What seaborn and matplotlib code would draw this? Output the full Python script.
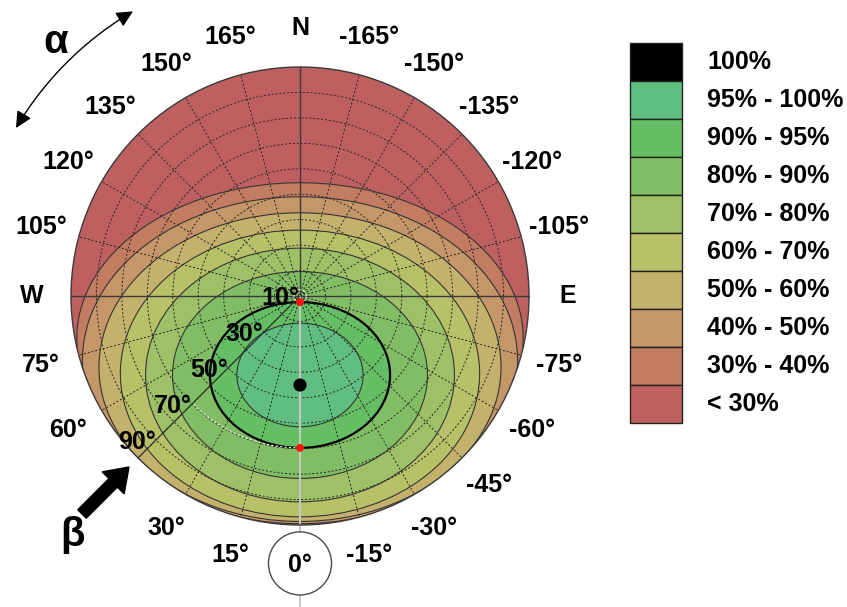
import numpy as np
import matplotlib
matplotlib.use("Agg")
import matplotlib.pyplot as plt
from matplotlib.patches import Ellipse, Circle, Rectangle, FancyArrow, FancyArrowPatch
from matplotlib.path import Path
import seaborn as sns

sns.set_theme(style="white")
plt.rcParams["font.family"] = ["Liberation Sans", "DejaVu Sans"]

# Yield bands, relative to the yield at the optimum orientation
legend_labels = ["100%", "95% - 100%", "90% - 95%", "80% - 90%", "70% - 80%",
                 "60% - 70%", "50% - 60%", "40% - 50%", "30% - 40%", "< 30%"]
band_colors = ["#000000", "#60be80", "#66be64", "#80bd64", "#9ec066",
               "#b8c068", "#c4b26c", "#c49668", "#c27c62", "#bf6060"]

# Iso-yield contours, outermost first (tilt degrees on the projected
# north-south axis, north positive, and east-west half width)
contour_levels = [30, 40, 50, 60, 70, 80, 90, 95]
contour_north = [44.5, 39.0, 32.7, 25.9, 18.8, 9.6, -2.4, -10.7]
contour_south = [-77.5, -89.5, -88.6, -86.8, -80.9, -71.7, -59.7, -51.4]
contour_halfwidth = [87.7, 85.5, 79.0, 70.6, 60.7, 50.1, 35.4, 24.8]
contour_colors = band_colors[8:0:-1]

# Optimum orientation and the 90 % limits along the south meridian
optimum_tilt, optimum_azimuth = 35, 0
limit_tilts = [2.4, 59.7]

# Tick labels
tilt_ticks = [10, 30, 50, 70, 90]
azimuth_ticks = [15, 30, 60, 75, 90, 105, 120, 135, 150, 165, 180,
                 -165, -150, -135, -120, -105, -90, -75, -60, -45, -30, -15]
azimuth_labels = ["15°", "30°", "60°", "75°", "W", "105°", "120°", "135°",
                  "150°", "165°", "N", "-165°", "-150°", "-135°", "-120°",
                  "-105°", "E", "-75°", "-60°", "-45°", "-30°", "-15°"]

PX = 229 / 90.0          # pixels per degree of tilt
CX, CY = 300, 296        # disc centre in pixels
R = 90                   # horizon (vertical plane) radius in tilt degrees


def proj(beta, alpha):
    a = np.radians(alpha)
    return -beta * np.sin(a), -beta * np.cos(a)


def px(x, y):
    return (x - CX) / PX, (CY - y) / PX


fig = plt.figure(figsize=(8.47, 6.07), dpi=100)
ax = fig.add_axes([0, 0, 1, 1])
ax.set_xlim(-CX / PX, (847 - CX) / PX)
ax.set_ylim((CY - 607) / PX, CY / PX)
ax.set_aspect("equal")
ax.axis("off")

clip = Circle((0, 0), R, transform=ax.transData)
ax.add_patch(Circle((0, 0), R, facecolor=band_colors[9], edgecolor="none", zorder=1))

for lvl, n, s, hw, col in zip(contour_levels, contour_north, contour_south,
                              contour_halfwidth, contour_colors):
    bold = lvl == 90
    e = Ellipse((0, (n + s) / 2), 2 * hw, n - s, facecolor=col,
                edgecolor="black" if bold else "#353535",
                lw=1.6 if bold else 0.8, zorder=2)
    ax.add_patch(e)
    e.set_clip_path(clip)

# dashed tilt / azimuth grid
t = np.linspace(0, 2 * np.pi, 400)
for b in range(10, 90, 10):
    ax.plot(b * np.cos(t), b * np.sin(t), color="#262626", lw=0.7,
            ls=(0, (2, 2)), zorder=3)
for a in range(0, 360, 15):
    if a % 90:
        x, y = proj(R, a)
        ax.plot([0, x], [0, y], color="#262626", lw=0.7, ls=(0, (2, 2)), zorder=3)

# axes of the diagram
ax.plot([-R, R], [0, 0], color="#3a3a3a", lw=1.0, zorder=4)
ax.plot([0, 0], [0, R], color="#3a3a3a", lw=1.0, zorder=4)
ax.plot([0, 0], [0, (CY - 607) / PX], color="#c8c8c8", lw=1.4, zorder=4)
ax.add_patch(Circle((0, 0), R, fill=False, edgecolor="#3a3a3a", lw=1.0, zorder=4))

# tilt scale along the 45° azimuth
gx, gy = proj(R, 45)
ax.plot([0, gx], [0, gy], color="#2a2a2a", lw=0.8, zorder=5)
arc = np.linspace(0, 45, 60)
ax.plot(*proj(limit_tilts[1], arc), color="#f4f4f4", lw=0.8, ls=(0, (2, 2)), zorder=5)
ax.plot(limit_tilts[0] * np.cos(t), limit_tilts[0] * np.sin(t), color="#f4f4f4",
        lw=0.8, ls=(0, (2, 2)), zorder=5)

ox, oy = proj(optimum_tilt, optimum_azimuth)
sns.scatterplot(x=[ox], y=[oy], ax=ax, s=90, color="black", edgecolor="none",
                zorder=7, legend=False)
lx, ly = proj(np.array(limit_tilts), 0)
sns.scatterplot(x=lx, y=ly, ax=ax, s=32, color="#ff1010", edgecolor="none",
                zorder=7, legend=False)

lab = dict(fontsize=18, fontweight="bold", color="black", ha="center", va="center")
for b in tilt_ticks:
    x, y = proj(b - 4, 45)
    ax.text(x - 3.3, y + 3.3, f"{b}°", zorder=8, **lab)

for a, s in zip(azimuth_ticks, azimuth_labels):
    x, y = proj(105.3, a)
    ax.text(x, y, s, zorder=8, **lab)

zx, zy = proj(105.1, 0)
ax.add_patch(Circle((zx, zy), 12.4, facecolor="white", edgecolor="#4a4a4a",
                    lw=1.0, zorder=6))
ax.text(zx, zy - 0.6, "0°", zorder=8, **lab)

# azimuth arrow
arc_a = np.linspace(120.6, 149.6, 50)
ax_, ay_ = proj(129.7, arc_a)
ax.add_patch(FancyArrowPatch(path=Path(np.column_stack([ax_, ay_])),
                             arrowstyle="<|-|>,head_length=0.45,head_width=0.22",
                             mutation_scale=22, color="black", lw=1.0, zorder=8))
ax.text(*px(56, 42), "α", fontsize=29, fontweight="bold", color="black",
        ha="center", va="center")

# tilt arrow
tx, ty = px(82, 514)
hx, hy = px(129, 467)
ax.add_patch(FancyArrow(tx, ty, hx - tx, hy - ty, width=4.7, head_width=12.2,
                        head_length=8.8, length_includes_head=True,
                        color="black", zorder=8))
ax.text(*px(72, 535), "β", fontsize=29, fontweight="bold", color="black",
        ha="center", va="center")

# legend
box_top, box_h = 42.6, 38.07
for i, (lbl, col) in enumerate(zip(legend_labels, band_colors)):
    y0 = box_top + i * box_h
    x0, yb = px(630, y0 + box_h)
    ax.add_patch(Rectangle((x0, yb), 52 / PX, box_h / PX, facecolor=col,
                           edgecolor="#222222", lw=1.0, zorder=5))
    ax.text(*px(707, y0 + box_h / 2), lbl, fontsize=18, fontweight="bold",
            color="black", ha="left", va="center")

fig.savefig("out.png", dpi=100)
